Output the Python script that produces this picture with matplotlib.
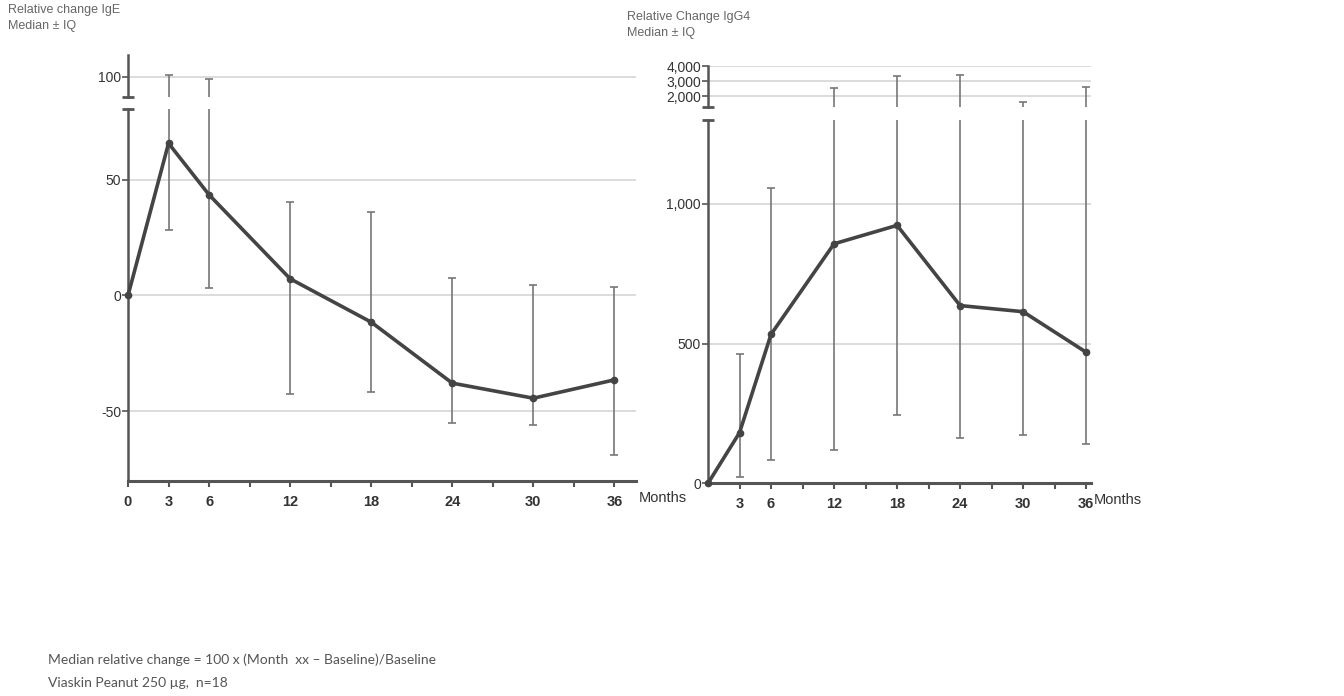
import matplotlib
matplotlib.use("Agg")
import matplotlib.pyplot as plt
import numpy as np

plt.rcParams['font.family'] = ['Liberation Sans Narrow', 'Liberation Sans', 'DejaVu Sans']

months = [0, 3, 6, 12, 18, 24, 30, 36]

# IgE relative change (median, Q1, Q3)
ige_med = [0, 65.6, 43.4, 7.2, -11.5, -37.8, -44.3, -36.4]
ige_lo = [0, 28.4, 3.3, -42.6, -41.6, -55.0, -55.9, -68.8]
ige_hi = [0, 100.7, 99.2, 40.5, 36.1, 7.6, 4.4, 3.7]

# IgG4 relative change (median, Q1, Q3)
igg4_med = [0, 181, 533, 857, 923, 636, 614, 469]
igg4_lo = [0, 24, 83, 119, 244, 163, 173, 140]
igg4_hi = [0, 462, 1056, 2513, 3353, 3400, 1620, 2620]

LINE = "#444444"
BAR = "#777777"
AXC = "#555555"
GRID = "#d9d9d9"

fig = plt.figure(figsize=(13.44, 6.96), dpi=100)


def style(ax, bottom=True):
    for s in ["top", "right"]:
        ax.spines[s].set_visible(False)
    ax.spines["left"].set_color(AXC)
    ax.spines["left"].set_linewidth(1.8)
    ax.spines["bottom"].set_color(AXC)
    ax.spines["bottom"].set_linewidth(2.2)
    if not bottom:
        ax.spines["bottom"].set_visible(False)
        ax.tick_params(axis="x", which="both", bottom=False, labelbottom=False)
    ax.tick_params(axis="y", length=4, width=1.2, color=AXC, labelsize=10, pad=1, labelcolor="#333333")
    ax.grid(axis="y", color=GRID, lw=1.3)
    ax.set_axisbelow(True)


def panel(rect_lo, rect_hi, xmax, ylo, yhi, med, lo, hi, lo_ticks, lo_labels, hi_ticks, hi_labels, xt, xl):
    axl = fig.add_axes(rect_lo)
    axh = fig.add_axes(rect_hi)
    err = [np.array(med) - np.array(lo), np.array(hi) - np.array(med)]
    for ax in (axl, axh):
        ax.errorbar(months[1:], med[1:], yerr=[err[0][1:], err[1][1:]], fmt="none",
                    ecolor=BAR, elinewidth=1.2, capsize=3, capthick=1.2, zorder=2)
        ax.set_xlim(0, xmax)
    axl.plot(months, med, color=LINE, lw=2.6, marker="o", ms=4.5, zorder=3, clip_on=False)
    axl.set_ylim(*ylo)
    axh.set_ylim(*yhi)
    style(axl)
    style(axh, bottom=False)
    axl.set_yticks(lo_ticks)
    axl.set_yticklabels(lo_labels)
    axh.set_yticks(hi_ticks)
    axh.set_yticklabels(hi_labels)
    axl.set_xticks(xt)
    axl.set_xticklabels(xl, fontsize=10.5, fontweight="bold", color="#333333")
    axl.set_xticks([9, 15, 21, 27, 33], minor=True)
    axl.tick_params(axis="x", which="both", length=4, width=1.5, color=AXC, pad=6)
    # break caps on the y spine
    axl.plot([0], [ylo[1]], marker="_", ms=9, mew=2, color=AXC, clip_on=False)
    axh.plot([0], [yhi[0]], marker="_", ms=9, mew=2, color=AXC, clip_on=False)
    axl.text(1.005, -0.045, "Months", transform=axl.transAxes, fontsize=10.5,
             color="#333333", va="center", ha="left")
    return axl, axh


panel([128 / 1344, 1 - 481 / 696, 508 / 1344, 372 / 696],
      [128 / 1344, 1 - 97 / 696, 508 / 1344, 42 / 696],
      37.6, (-80, 80.4), (91.3, 109.3), ige_med, ige_lo, ige_hi,
      [-50, 0, 50], ["-50", "0", "50"], [100], ["100"],
      months, [str(m) for m in months])

panel([708 / 1344, 1 - 483.3 / 696, 383.4 / 1344, 363.3 / 696],
      [708 / 1344, 1 - 106.7 / 696, 383.4 / 1344, 40.7 / 696],
      36.5, (0, 1300), (1290, 4000), igg4_med, igg4_lo, igg4_hi,
      [0, 500, 1000], ["0", "500", "1,000"], [2000, 3000, 4000], ["2,000", "3,000", "4,000"],
      months[1:], [str(m) for m in months[1:]])

tc = "#666666"
fig.text(8 / 1344, 1 - 18 / 696, "Relative change IgE\nMedian \u00b1 IQ", fontsize=9, color=tc,
         va="center", ha="left", linespacing=1.5)
fig.text(627 / 1344, 1 - 25 / 696, "Relative Change IgG4\nMedian \u00b1 IQ", fontsize=9, color=tc,
         va="center", ha="left", linespacing=1.5)

fig.text(48 / 1344, 1 - 660 / 696, "Median relative change = 100 x (Month  xx \u2013 Baseline)/Baseline",
         fontsize=10, color="#555555", family=["Lato", "DejaVu Sans"], va="center")
fig.text(48 / 1344, 1 - 683 / 696, "Viaskin Peanut 250 \u00b5g,  n=18",
         fontsize=10, color="#555555", family=["Lato", "DejaVu Sans"], va="center")

fig.savefig("out.png", dpi=100)
